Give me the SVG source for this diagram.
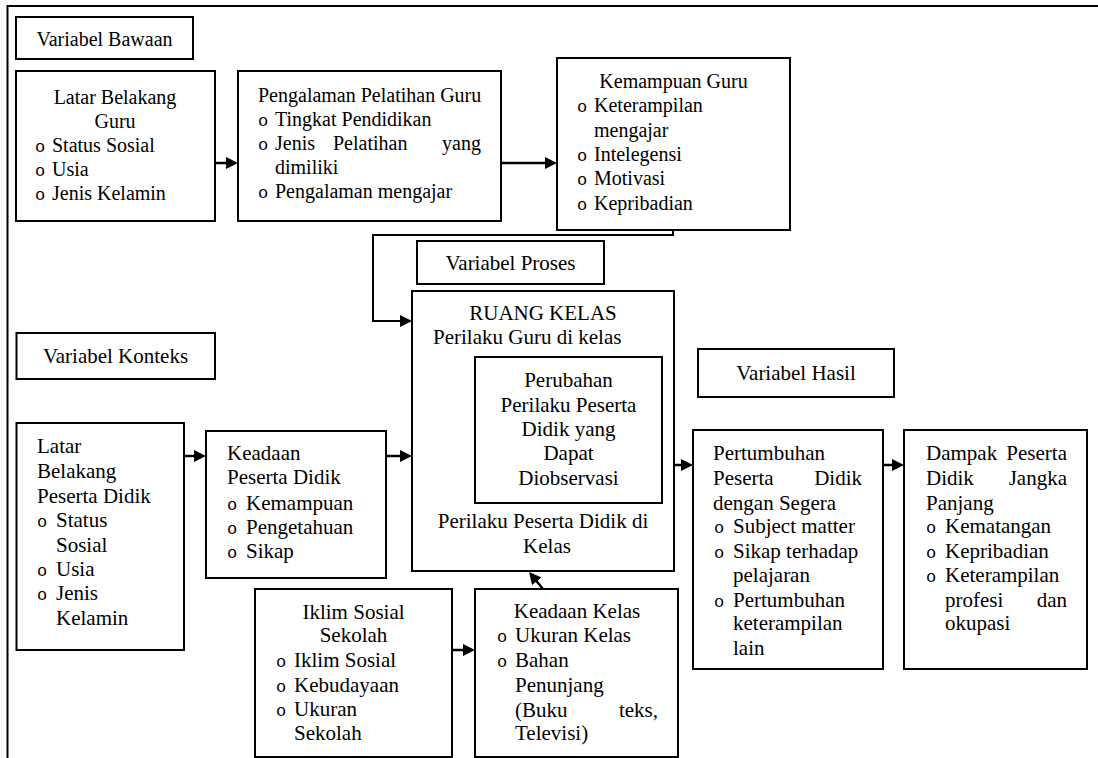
<svg xmlns="http://www.w3.org/2000/svg" width="1098" height="758" viewBox="0 0 1098 758">
<style>
text { font-family: "Liberation Serif", "Times New Roman", serif; fill:#000; }
.s20 { font-size:20px; }
.s21 { font-size:21px; }
.m { text-anchor: middle; }
.e { text-anchor: end; }
text.b { font-family: "Liberation Mono", "Courier New", monospace; font-size:17px; }
rect.box { fill:#fff; stroke:#000; stroke-width:2; }
.conn { fill:none; stroke:#000; stroke-width:2.5; }
</style>
<defs>
<marker id="ah" markerUnits="userSpaceOnUse" markerWidth="12" markerHeight="12" refX="2" refY="6" orient="auto"><path d="M0,0 L12,6 L0,12 z" fill="#000"/></marker>
</defs>
<rect width="1098" height="758" fill="#fff"/>
<path id="frame" d="M7.5,758 V6 H1098" fill="none" stroke="#000" stroke-width="2"/>

<g id="variabel-bawaan">
<rect class="box" x="16" y="17" width="177" height="42"/>
<text class="s20 m" x="104.5" y="46">Variabel Bawaan</text>
</g>

<g id="latar-guru" class="s20">
<rect class="box" x="16" y="71" width="199" height="150"/>
<text class="m" x="115" y="104">Latar Belakang</text>
<text class="m" x="115" y="128">Guru</text>
<text class="b" x="35" y="152">o</text><text x="52" y="152">Status Sosial</text>
<text class="b" x="35" y="176">o</text><text x="52" y="176">Usia</text>
<text class="b" x="35" y="200">o</text><text x="52" y="200">Jenis Kelamin</text>
</g>

<g id="pengalaman" class="s20">
<rect class="box" x="238" y="71" width="263" height="150"/>
<text x="258" y="102">Pengalaman Pelatihan Guru</text>
<text class="b" x="258" y="126">o</text><text x="275" y="126">Tingkat Pendidikan</text>
<text class="b" x="258" y="150">o</text><text x="275" y="150">Jenis</text><text x="333" y="150">Pelatihan</text><text class="e" x="481" y="150">yang</text>
<text x="275" y="174">dimiliki</text>
<text class="b" x="258" y="198">o</text><text x="275" y="198">Pengalaman mengajar</text>
</g>

<g id="kemampuan" class="s20">
<rect class="box" x="557" y="58" width="233" height="172"/>
<text class="m" x="673.5" y="88">Kemampuan Guru</text>
<text class="b" x="577" y="112">o</text><text x="594" y="112">Keterampilan</text>
<text x="594" y="137">mengajar</text>
<text class="b" x="577" y="161">o</text><text x="594" y="161">Intelegensi</text>
<text class="b" x="577" y="185">o</text><text x="594" y="185">Motivasi</text>
<text class="b" x="577" y="210">o</text><text x="594" y="210">Kepribadian</text>
</g>

<g id="variabel-proses">
<rect class="box" x="417" y="241" width="187" height="43"/>
<text class="s21 m" x="510.5" y="270">Variabel Proses</text>
</g>

<g id="variabel-konteks">
<rect class="box" x="16.5" y="333" width="198.5" height="46"/>
<text class="s21 m" x="115.5" y="363">Variabel Konteks</text>
</g>

<g id="variabel-hasil">
<rect class="box" x="698" y="349" width="196" height="48"/>
<text class="s21 m" x="796" y="380">Variabel Hasil</text>
</g>

<g id="ruang-kelas" class="s21">
<rect class="box" x="412" y="291" width="262" height="280"/>
<text class="m" x="543" y="320">RUANG KELAS</text>
<text x="433" y="344">Perilaku Guru di kelas</text>
<text class="m" x="543" y="528">Perilaku Peserta Didik di</text>
<text class="m" x="547" y="553">Kelas</text>
</g>

<g id="perubahan" class="s21">
<rect class="box" x="475" y="357" width="187" height="146"/>
<text class="m" x="568.5" y="387">Perubahan</text>
<text class="m" x="568.5" y="412">Perilaku Peserta</text>
<text class="m" x="568.5" y="436">Didik yang</text>
<text class="m" x="568.5" y="460">Dapat</text>
<text class="m" x="568.5" y="485">Diobservasi</text>
</g>

<g id="latar-peserta" class="s21">
<rect class="box" x="16.5" y="423" width="167.5" height="227"/>
<text x="37" y="453">Latar</text>
<text x="37" y="478">Belakang</text>
<text x="37" y="503">Peserta Didik</text>
<text class="b" x="37" y="527">o</text><text x="56" y="527">Status</text>
<text x="56" y="552">Sosial</text>
<text class="b" x="37" y="576">o</text><text x="56" y="576">Usia</text>
<text class="b" x="37" y="600">o</text><text x="56" y="600">Jenis</text>
<text x="56" y="625">Kelamin</text>
</g>

<g id="keadaan-peserta" class="s21">
<rect class="box" x="206" y="431" width="180" height="147"/>
<text x="227" y="460">Keadaan</text>
<text x="227" y="484">Peserta Didik</text>
<text class="b" x="227" y="510">o</text><text x="246" y="510">Kemampuan</text>
<text class="b" x="227" y="534">o</text><text x="246" y="534">Pengetahuan</text>
<text class="b" x="227" y="558">o</text><text x="246" y="558">Sikap</text>
</g>

<g id="iklim" class="s21">
<rect class="box" x="255" y="589" width="197" height="168"/>
<text class="m" x="353.5" y="619">Iklim Sosial</text>
<text class="m" x="353.5" y="642">Sekolah</text>
<text class="b" x="276" y="667">o</text><text x="294" y="667">Iklim Sosial</text>
<text class="b" x="276" y="692">o</text><text x="294" y="692">Kebudayaan</text>
<text class="b" x="276" y="716">o</text><text x="294" y="716">Ukuran</text>
<text x="294" y="740">Sekolah</text>
</g>

<g id="keadaan-kelas" class="s21">
<rect class="box" x="475" y="589" width="203" height="168"/>
<text class="m" x="577" y="618">Keadaan Kelas</text>
<text class="b" x="497" y="642">o</text><text x="515" y="642">Ukuran Kelas</text>
<text class="b" x="497" y="667">o</text><text x="515" y="667">Bahan</text>
<text x="515" y="692">Penunjang</text>
<text x="515" y="717">(Buku</text><text class="e" x="658" y="717">teks,</text>
<text x="515" y="740">Televisi)</text>
</g>

<g id="pertumbuhan" class="s21">
<rect class="box" x="693" y="430" width="190" height="239"/>
<text x="713" y="460">Pertumbuhan</text>
<text x="713" y="485">Peserta</text><text class="e" x="862" y="485">Didik</text>
<text x="713" y="510">dengan Segera</text>
<text class="b" x="714" y="533">o</text><text x="733" y="533">Subject matter</text>
<text class="b" x="714" y="558">o</text><text x="733" y="558">Sikap terhadap</text>
<text x="733" y="582">pelajaran</text>
<text class="b" x="714" y="607">o</text><text x="733" y="607">Pertumbuhan</text>
<text x="733" y="630">keterampilan</text>
<text x="733" y="655">lain</text>
</g>

<g id="dampak" class="s21">
<rect class="box" x="904" y="430" width="183" height="239"/>
<text x="926" y="460">Dampak</text><text class="e" x="1067" y="460">Peserta</text>
<text x="926" y="485">Didik</text><text class="e" x="1067" y="485">Jangka</text>
<text x="926" y="510">Panjang</text>
<text class="b" x="926" y="533">o</text><text x="945" y="533">Kematangan</text>
<text class="b" x="926" y="558">o</text><text x="945" y="558">Kepribadian</text>
<text class="b" x="926" y="582">o</text><text x="945" y="582">Keterampilan</text>
<text x="945" y="607">profesi</text><text class="e" x="1067" y="607">dan</text>
<text x="945" y="630">okupasi</text>
</g>

<g id="connectors">
<path class="conn" d="M215,163 H228" marker-end="url(#ah)"/>
<path class="conn" d="M501,163 H547" marker-end="url(#ah)"/>
<path class="conn" style="stroke-width:2" d="M673,230 V235 H373 V321 H402" marker-end="url(#ah)"/>
<path class="conn" d="M184,456 H196" marker-end="url(#ah)"/>
<path class="conn" d="M386,456 H402" marker-end="url(#ah)"/>
<path class="conn" d="M674,465 H683" marker-end="url(#ah)"/>
<path class="conn" d="M883,465 H894" marker-end="url(#ah)"/>
<path class="conn" d="M452,650 H465" marker-end="url(#ah)"/>
<path class="conn" d="M543,589 L535.4,579.7" marker-end="url(#ah)"/>
</g>
</svg>
